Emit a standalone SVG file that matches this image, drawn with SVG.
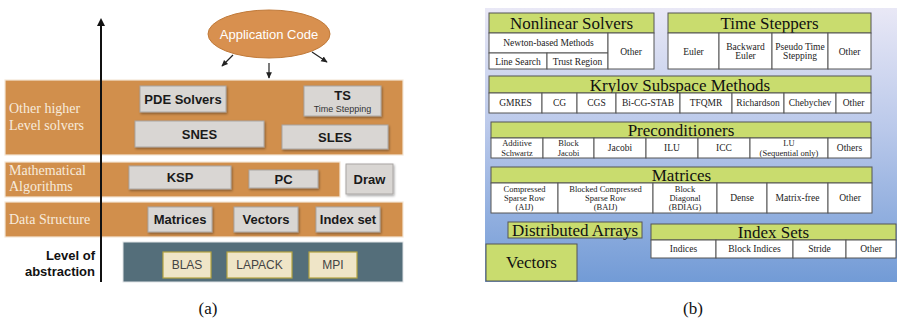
<svg xmlns="http://www.w3.org/2000/svg" width="897" height="333" viewBox="0 0 897 333">
  <defs>
    <linearGradient id="panelGrad" x1="0" y1="0" x2="0" y2="1">
      <stop offset="0" stop-color="#e9e8f6"/>
      <stop offset="0.45" stop-color="#b9c8ea"/>
      <stop offset="1" stop-color="#729bd6"/>
    </linearGradient>
    <filter id="shadow" x="-10%" y="-10%" width="125%" height="140%">
      <feDropShadow dx="1" dy="1.5" stdDeviation="0.8" flood-color="#000" flood-opacity="0.35"/>
    </filter>
    <marker id="arrow" viewBox="0 0 10 10" refX="8" refY="5" markerWidth="6" markerHeight="6" orient="auto-start-reverse">
      <path d="M0,1 L9,5 L0,9 z" fill="#222"/>
    </marker>
    <marker id="axisHead" viewBox="0 0 10 10" refX="5" refY="2" markerWidth="5" markerHeight="5" orient="0">
      <path d="M1,8 L5,0 L9,8 z" fill="#111"/>
    </marker>
  </defs>
  <style>
    .band { fill: #d18f4c; stroke: #f4e6d6; stroke-width: 1.2; }
    .teal { fill: #546e7a; stroke: #dfe3e6; stroke-width: 1; }
    .gray { fill: #d9d6d3; stroke: #a9a6a3; stroke-width: 1; filter: url(#shadow); }
    .beige { fill: #efe5c7; stroke: #b3a23f; stroke-width: 1.2; }
    .btxt { font-family: "Liberation Sans", Arial, sans-serif; font-weight: bold; font-size: 13px; fill: #1a1a1a; text-anchor: middle; }
    .ltxt { font-family: "Liberation Sans", Arial, sans-serif; font-size: 12px; fill: #444; text-anchor: middle; }
    .side { font-family: "Liberation Serif", "Times New Roman", serif; font-size: 14px; fill: #f7ebdc; }
    .lvl { font-family: "Liberation Sans", Arial, sans-serif; font-weight: bold; font-size: 13px; fill: #111; text-anchor: end; }
    .hdr { fill: #c9dc6e; stroke: #555; stroke-width: 1; }
    .cell { fill: #ffffff; stroke: #555; stroke-width: 1; }
    .htxt { font-family: "Liberation Serif", "Times New Roman", serif; font-size: 17px; fill: #111; text-anchor: middle; }
    .ctxt { font-family: "Liberation Serif", "Times New Roman", serif; font-size: 9.5px; fill: #222; text-anchor: middle; }
    .stxt { font-family: "Liberation Serif", "Times New Roman", serif; font-size: 8.5px; fill: #222; text-anchor: middle; }
    .cap { font-family: "Liberation Serif", "Times New Roman", serif; font-size: 17px; fill: #111; text-anchor: middle; }
    .conn { stroke: #222; stroke-width: 1.2; fill: none; }
  </style>

  <!-- (a) layered software stack -->
  <g id="bands">
    <rect class="band" x="5" y="80" width="398" height="75"/>
    <rect class="band" x="5" y="162" width="335" height="35"/>
    <rect class="band" x="5" y="202" width="398" height="35"/>
    <rect class="teal" x="123" y="242" width="280" height="40"/>
  </g>

  <g id="side-labels">
    <text class="side" x="9" y="113">Other higher</text>
    <text class="side" x="9" y="130">Level solvers</text>
    <text class="side" x="9" y="175">Mathematical</text>
    <text class="side" x="9" y="191">Algorithms</text>
    <text class="side" x="9" y="224">Data Structure</text>
    <text class="lvl" x="95" y="260">Level of</text>
    <text class="lvl" x="95" y="276">abstraction</text>
  </g>

  <g id="app-code">
    <ellipse cx="269" cy="34" rx="61" ry="24" fill="#d8904f" stroke="#c07a3a" stroke-width="1"/>
    <text x="269" y="39" font-family="Liberation Sans, Arial, sans-serif" font-size="13" fill="#ffffff" text-anchor="middle">Application Code</text>
  </g>

  <g id="pde-solvers"><rect class="gray" x="140" y="86" width="86" height="26"/><text class="btxt" x="183" y="104">PDE Solvers</text></g>
  <g id="ts">
    <rect class="gray" x="304" y="86" width="77" height="30"/>
    <text class="btxt" x="342.5" y="100">TS</text>
    <text x="342.5" y="112" font-family="Liberation Sans, Arial, sans-serif" font-size="9" fill="#333" text-anchor="middle">Time Stepping</text>
  </g>
  <g id="snes"><rect class="gray" x="135" y="121" width="129" height="26"/><text class="btxt" x="199.5" y="139">SNES</text></g>
  <g id="sles"><rect class="gray" x="282" y="125" width="106" height="24"/><text class="btxt" x="335" y="142">SLES</text></g>
  <g id="ksp"><rect class="gray" x="129" y="166" width="102" height="23"/><text class="btxt" x="180" y="182">KSP</text></g>
  <g id="pc"><rect class="gray" x="249" y="170" width="69" height="18"/><text class="btxt" x="283.5" y="184">PC</text></g>
  <g id="draw"><rect class="gray" x="346" y="164" width="47" height="30"/><text class="btxt" x="369.5" y="184">Draw</text></g>
  <g id="matrices-a"><rect class="gray" x="148" y="207" width="64" height="25"/><text class="btxt" x="180" y="224">Matrices</text></g>
  <g id="vectors-a"><rect class="gray" x="234" y="207" width="64" height="25"/><text class="btxt" x="266" y="224">Vectors</text></g>
  <g id="index-set"><rect class="gray" x="316" y="207" width="64" height="25"/><text class="btxt" x="348" y="224">Index set</text></g>
  <g id="blas"><rect class="beige" x="163" y="252" width="48" height="26"/><text class="ltxt" x="187" y="269">BLAS</text></g>
  <g id="lapack"><rect class="beige" x="227" y="252" width="65" height="26"/><text class="ltxt" x="259.5" y="269">LAPACK</text></g>
  <g id="mpi"><rect class="beige" x="309" y="252" width="48" height="26"/><text class="ltxt" x="333" y="269">MPI</text></g>

  <g id="connectors">
    <line class="conn" x1="233" y1="55" x2="222" y2="66" marker-end="url(#arrow)"/>
    <line class="conn" x1="269" y1="63" x2="269" y2="78" marker-end="url(#arrow)"/>
    <line class="conn" x1="312" y1="52" x2="327" y2="62" marker-end="url(#arrow)"/>
    <line x1="101" y1="282" x2="101" y2="20" stroke="#111" stroke-width="2" marker-end="url(#axisHead)"/>
  </g>

  <!-- (b) component overview -->
  <rect id="panel-b" x="485" y="8" width="412" height="274" fill="url(#panelGrad)"/>

  <g id="nonlinear-solvers">
    <rect class="hdr" x="489" y="13" width="165" height="20"/>
    <text class="htxt" x="571.5" y="29">Nonlinear Solvers</text>
    <rect class="cell" x="489" y="33" width="119" height="20"/>
    <rect class="cell" x="489" y="53" width="58" height="16"/>
    <rect class="cell" x="547" y="53" width="61" height="16"/>
    <rect class="cell" x="608" y="33" width="46" height="36"/>
    <text class="ctxt" x="548.5" y="46">Newton-based Methods</text>
    <text class="ctxt" x="518" y="65">Line Search</text>
    <text class="ctxt" x="577.5" y="65">Trust Region</text>
    <text class="ctxt" x="631" y="55">Other</text>
  </g>

  <g id="time-steppers">
    <rect class="hdr" x="668" y="13" width="203" height="20"/>
    <text class="htxt" x="769.5" y="29">Time Steppers</text>
    <rect class="cell" x="668" y="33" width="51" height="36"/>
    <rect class="cell" x="719" y="33" width="53" height="36"/>
    <rect class="cell" x="772" y="33" width="56" height="36"/>
    <rect class="cell" x="828" y="33" width="43" height="36"/>
    <text class="ctxt" x="693.5" y="55">Euler</text>
    <text class="ctxt" x="745.5" y="50">Backward</text>
    <text class="ctxt" x="745.5" y="59">Euler</text>
    <text class="ctxt" x="800" y="50">Pseudo Time</text>
    <text class="ctxt" x="800" y="59">Stepping</text>
    <text class="ctxt" x="849.5" y="55">Other</text>
  </g>

  <g id="krylov">
    <rect class="hdr" x="489" y="76" width="382" height="17"/>
    <text class="htxt" x="680" y="91">Krylov Subspace Methods</text>
    <rect class="cell" x="489" y="93" width="53" height="20"/>
    <rect class="cell" x="542" y="93" width="35" height="20"/>
    <rect class="cell" x="577" y="93" width="39" height="20"/>
    <rect class="cell" x="616" y="93" width="64" height="20"/>
    <rect class="cell" x="680" y="93" width="52" height="20"/>
    <rect class="cell" x="732" y="93" width="52" height="20"/>
    <rect class="cell" x="784" y="93" width="52" height="20"/>
    <rect class="cell" x="836" y="93" width="35" height="20"/>
    <text class="ctxt" x="515.5" y="106">GMRES</text>
    <text class="ctxt" x="559.5" y="106">CG</text>
    <text class="ctxt" x="596.5" y="106">CGS</text>
    <text class="ctxt" x="648" y="106">Bi-CG-STAB</text>
    <text class="ctxt" x="706" y="106">TFQMR</text>
    <text class="ctxt" x="758" y="106">Richardson</text>
    <text class="ctxt" x="810" y="106">Chebychev</text>
    <text class="ctxt" x="853.5" y="106">Other</text>
  </g>

  <g id="preconditioners">
    <rect class="hdr" x="491" y="122" width="380" height="16"/>
    <text class="htxt" x="681" y="136">Preconditioners</text>
    <rect class="cell" x="491" y="138" width="52" height="20"/>
    <rect class="cell" x="543" y="138" width="51" height="20"/>
    <rect class="cell" x="594" y="138" width="52" height="20"/>
    <rect class="cell" x="646" y="138" width="52" height="20"/>
    <rect class="cell" x="698" y="138" width="52" height="20"/>
    <rect class="cell" x="750" y="138" width="78" height="20"/>
    <rect class="cell" x="828" y="138" width="43" height="20"/>
    <text class="stxt" x="517" y="146">Additive</text>
    <text class="stxt" x="517" y="155.5">Schwartz</text>
    <text class="stxt" x="568.5" y="146">Block</text>
    <text class="stxt" x="568.5" y="155.5">Jacobi</text>
    <text class="ctxt" x="620" y="151">Jacobi</text>
    <text class="ctxt" x="672" y="151">ILU</text>
    <text class="ctxt" x="724" y="151">ICC</text>
    <text class="stxt" x="789" y="146">LU</text>
    <text class="stxt" x="789" y="155.5">(Sequential only)</text>
    <text class="ctxt" x="849.5" y="151">Others</text>
  </g>

  <g id="matrices-b">
    <rect class="hdr" x="491" y="167" width="381" height="16"/>
    <text class="htxt" x="681.5" y="181">Matrices</text>
    <rect class="cell" x="491" y="183" width="67" height="30"/>
    <rect class="cell" x="558" y="183" width="95" height="30"/>
    <rect class="cell" x="653" y="183" width="64" height="30"/>
    <rect class="cell" x="717" y="183" width="50" height="30"/>
    <rect class="cell" x="767" y="183" width="61" height="30"/>
    <rect class="cell" x="828" y="183" width="44" height="30"/>
    <text class="stxt" x="524.5" y="191.5">Compressed</text>
    <text class="stxt" x="524.5" y="200.5">Sparse Row</text>
    <text class="stxt" x="524.5" y="209.5">(AIJ)</text>
    <text class="stxt" x="605.5" y="191.5">Blocked Compressed</text>
    <text class="stxt" x="605.5" y="200.5">Sparse Row</text>
    <text class="stxt" x="605.5" y="209.5">(BAIJ)</text>
    <text class="stxt" x="685" y="191.5">Block</text>
    <text class="stxt" x="685" y="200.5">Diagonal</text>
    <text class="stxt" x="685" y="209.5">(BDIAG)</text>
    <text class="ctxt" x="742" y="201">Dense</text>
    <text class="ctxt" x="797.5" y="201">Matrix-free</text>
    <text class="ctxt" x="850" y="201">Other</text>
  </g>

  <g id="distributed-arrays">
    <rect class="hdr" x="508" y="222" width="134" height="16"/>
    <text class="htxt" x="575" y="236">Distributed Arrays</text>
  </g>

  <g id="index-sets">
    <rect class="hdr" x="651" y="224" width="245" height="16"/>
    <text class="htxt" x="773.5" y="238">Index Sets</text>
    <rect class="cell" x="651" y="240" width="65" height="18"/>
    <rect class="cell" x="716" y="240" width="77" height="18"/>
    <rect class="cell" x="793" y="240" width="53" height="18"/>
    <rect class="cell" x="846" y="240" width="50" height="18"/>
    <text class="ctxt" x="683.5" y="252">Indices</text>
    <text class="ctxt" x="754.5" y="252">Block Indices</text>
    <text class="ctxt" x="819.5" y="252">Stride</text>
    <text class="ctxt" x="871" y="252">Other</text>
  </g>

  <g id="vectors-b">
    <rect class="hdr" x="486" y="244" width="91" height="37"/>
    <text class="htxt" x="531.5" y="268">Vectors</text>
  </g>

  <g id="captions">
    <text class="cap" x="208" y="314">(a)</text>
    <text class="cap" x="693" y="314">(b)</text>
  </g>
</svg>
